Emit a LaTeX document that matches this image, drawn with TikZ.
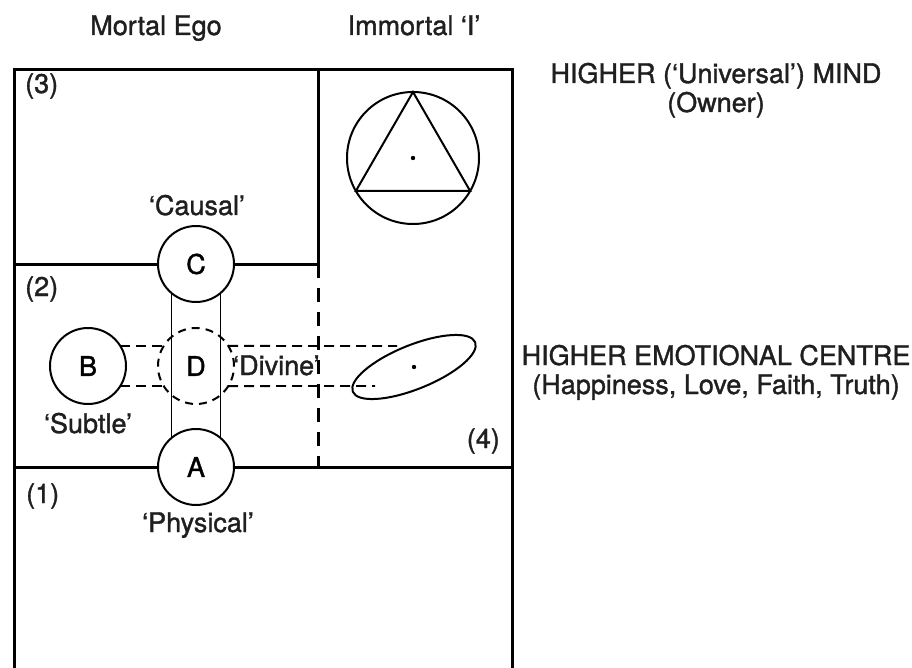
\documentclass[tikz,border=0pt]{standalone}
\usepackage{fontspec}
\setmainfont{TeX Gyre Heros}
\newfontfamily\lblfont{TeX Gyre Heros}[FakeBold=1.3]
\usetikzlibrary{shapes.geometric}

\begin{document}
\begin{tikzpicture}[x=1pt,y=-1pt,
    lbl/.style={font=\lblfont\fontsize{27}{30}\selectfont, text=black!88, inner sep=0pt, anchor=base},
    ring/.style={draw, circle, line width=2pt, minimum size=76pt, inner sep=0pt, outer sep=0pt,
                 font=\lblfont\fontsize{27}{30}\selectfont},
    frame/.style={line width=3pt},
    link/.style={line width=1.8pt, dash pattern=on 10pt off 6pt}]
    \useasboundingbox (0,0) rectangle (912,668);

    % Cerchi dei corpi
    \node[ring] (C) at (196,264) {C};
    \node[ring] (A) at (196,467) {A};
    \node[ring] (B) at (88,366) {B};
    \node[ring, dash pattern=on 8pt off 6pt] (D) at (196,366) {D};

    % Cornice e divisioni
    \draw[frame] (14,668) -- (14,70) -- (512,70) -- (512,668);
    \draw[frame] (318,70) -- (318,264);
    \draw[frame] (14,264) -- (C.west);
    \draw[frame] (C.east) -- (318,264);
    \draw[frame, dash pattern=on 14pt off 10pt] (318,264) -- (318,467);
    \draw[frame] (14,467) -- (A.west);
    \draw[frame] (A.east) -- (512,467);

    % Colonna sottile tra C e A
    \draw[line width=1pt] (C.230) -- (A.130);
    \draw[line width=1pt] (C.310) -- (A.50);

    % Mente superiore
    \node[draw, circle, line width=2pt, minimum size=132pt, inner sep=0pt, outer sep=0pt] (M) at (413,158) {};
    \draw[line width=2pt, line join=miter] (M.90) -- (M.210) -- (M.330) -- cycle;
    \fill (M.center) circle (2.2pt);

    % Centro emotivo superiore
    \node[draw, ellipse, line width=2pt, minimum width=132pt, minimum height=44pt,
          inner sep=0pt, outer sep=0pt, rotate=22] (E) at (414,367) {};
    \fill (E.center) circle (2.2pt);
    \coordinate (e1) at (397,346);
    \coordinate (e2) at (375,386);

    % Collegamenti tratteggiati
    \draw[link] (B.32) -- (D.148);
    \draw[link] (B.-32) -- (D.-148);
    \draw[link] (D.32) -- (e1);
    \draw[link] (D.-32) -- (e2);

    % Etichette
    \node[lbl] (mortal) at (156,35) {Mortal Ego};
    \node[lbl] (immortal) at (414,35) {Immortal ‘I’};
    \node[lbl, anchor=base west] (n3) at (25,93) {(3)};
    \node[lbl] (causal) at (197,215) {‘Causal’};
    \node[lbl, anchor=base west] (n2) at (25,296) {(2)};
    \node[lbl] (subtle) at (88,433) {‘Subtle’};
    \node[lbl, anchor=base west] (divine) at (233,375) {‘Divine’};
    \node[lbl, anchor=base east] (n4) at (500,448) {(4)};
    \node[lbl, anchor=base west] (n1) at (26,503) {(1)};
    \node[lbl] (physical) at (198,532) {‘Physical’};

    \node[lbl] (mind) at (716,83) {HIGHER (‘Universal’) MIND};
    \node[lbl] (owner) at (716,112) {(Owner)};
    \node[lbl] (emo) at (716,365) {HIGHER EMOTIONAL CENTRE};
    \node[lbl] (virtues) at (716,394) {(Happiness, Love, Faith, Truth)};
\end{tikzpicture}
\end{document}
